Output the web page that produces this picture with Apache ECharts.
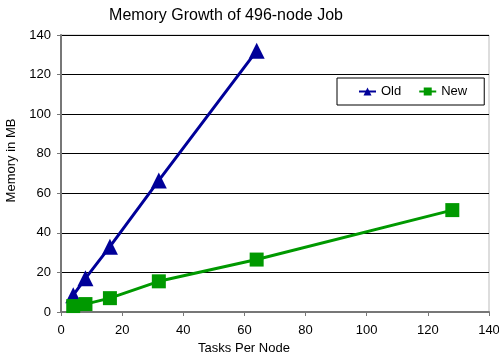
<!DOCTYPE html>
<html>
<head>
<meta charset="utf-8">
<script src="https://cdn.jsdelivr.net/npm/echarts@6/dist/echarts.min.js"></script>
<style>
  html, body { margin: 0; padding: 0; background: #fff; }
  #chart { width: 499px; height: 356px; }
</style>
</head>
<body>
<div id="chart"></div>
<script>
// Tasks per node and memory used (MB)
const oldTasks = [4, 8, 16, 32, 64];
const oldMemory = [8.5, 17, 33, 66.5, 132];
const newTasks = [4, 8, 16, 32, 64, 128];
const newMemory = [3, 4, 7, 15.5, 26.5, 51.5];

const font = 'Liberation Sans, Arial, sans-serif';
const pair = (xs, ys) => xs.map((x, i) => [x, ys[i]]);

const chart = echarts.init(document.getElementById('chart'));
chart.setOption({
  animation: false,
  backgroundColor: '#fff',
  title: {
    text: 'Memory Growth of 496-node Job',
    left: 221, top: 3, textAlign: 'center',
    textStyle: { fontFamily: font, fontSize: 16, fontWeight: 'normal', color: '#000' }
  },
  legend: {
    left: 337, top: 78,
    padding: [7, 17, 7, 21],
    borderColor: '#000', borderWidth: 1,
    itemWidth: 17, itemHeight: 10, itemGap: 17,
    textStyle: { fontFamily: font, fontSize: 13, color: '#000' },
    data: ['Old', 'New']
  },
  grid: {
    left: 61, right: 10, top: 35, bottom: 44,
    containLabel: false, outerBoundsMode: 'none',
    show: true, borderColor: '#bbb', borderWidth: 1
  },
  xAxis: {
    type: 'value', min: 0, max: 140, interval: 20,
    name: 'Tasks Per Node', nameLocation: 'middle', nameGap: 29,
    nameTextStyle: { fontFamily: font, fontSize: 13, color: '#000', padding: [0, 62, 0, 0] },
    axisLine: { lineStyle: { color: '#777', width: 2 } },
    axisTick: { show: true, length: 4, lineStyle: { color: '#777' } },
    axisLabel: { fontFamily: font, fontSize: 13, color: '#000', margin: 12 },
    splitLine: { show: false }
  },
  yAxis: {
    type: 'value', min: 0, max: 140, interval: 20,
    name: 'Memory in MB', nameLocation: 'middle', nameGap: 36,
    nameTextStyle: { fontFamily: font, fontSize: 13, color: '#000', padding: [0, 0, 0, 26] },
    axisLine: { show: true, lineStyle: { color: '#777', width: 2 } },
    axisTick: { show: true, length: 4, lineStyle: { color: '#777' } },
    axisLabel: { fontFamily: font, fontSize: 13, color: '#000', margin: 10 },
    splitLine: { show: true, lineStyle: { color: '#000', width: 1 } }
  },
  series: [
    {
      name: 'Old', type: 'line', data: pair(oldTasks, oldMemory),
      symbol: 'triangle', symbolSize: 16,
      lineStyle: { color: '#000099', width: 3 },
      itemStyle: { color: '#000099' }
    },
    {
      name: 'New', type: 'line', data: pair(newTasks, newMemory),
      symbol: 'rect', symbolSize: 14,
      lineStyle: { color: '#009900', width: 3 },
      itemStyle: { color: '#009900' }
    }
  ]
});
</script>
</body>
</html>
